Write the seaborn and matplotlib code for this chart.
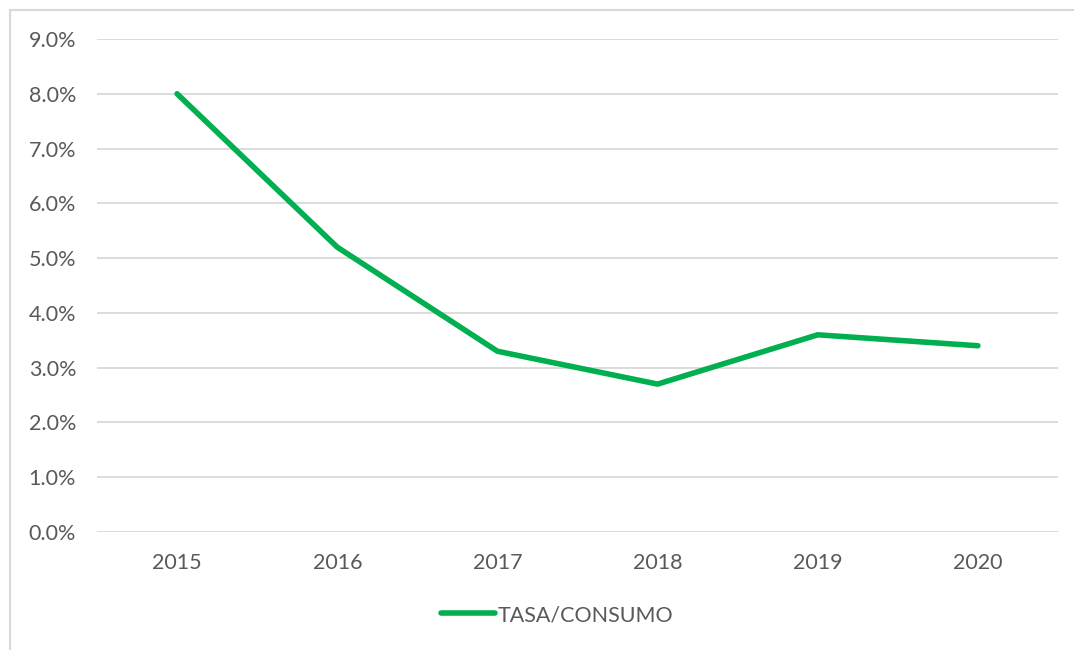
import numpy as np
import pandas as pd
import seaborn as sns
import matplotlib.pyplot as plt
from matplotlib.patches import Rectangle
from matplotlib.ticker import PercentFormatter

# chart data
years = ["2015", "2016", "2017", "2018", "2019", "2020"]
tasa_consumo = [0.080, 0.052, 0.033, 0.027, 0.036, 0.034]
series_name = "TASA/CONSUMO"

df = pd.DataFrame({"year": years, "value": tasa_consumo})

sns.set_theme(style="white")
plt.rcParams["font.family"] = ["Lato", "DejaVu Sans"]

text_color = "#595959"
green = "#00B050"
fs = 15.5

fig = plt.figure(figsize=(10.74, 6.5), dpi=100)
ax = fig.add_axes([97 / 1074, 1 - 532 / 650, (1058 - 97) / 1074, (532 - 39) / 650])

# outer chart frame
fig.patches.append(Rectangle((10 / 1074, -0.05), 1.2, 1 - 10 / 650 + 0.05,
                             transform=fig.transFigure, fill=False,
                             edgecolor="#D9D9D9", linewidth=1.5))

sns.lineplot(data=df, x="year", y="value", ax=ax, color=green, linewidth=4.0,
             label=series_name, sort=False)
ax.lines[0].set_solid_capstyle("round")
ax.lines[0].set_solid_joinstyle("round")

ax.set_xlim(-0.5, len(years) - 0.5)
ax.set_ylim(0, 0.09)
ax.set_yticks(np.arange(0, 0.0901, 0.01))
ax.yaxis.set_major_formatter(PercentFormatter(1.0, decimals=1))
ax.grid(axis="y", color="#D9D9D9", linewidth=1.3)
ax.set_axisbelow(True)
for s in ax.spines.values():
    s.set_visible(False)
ax.tick_params(axis="both", length=0, labelsize=fs, labelcolor=text_color)
ax.tick_params(axis="y", pad=15)
ax.tick_params(axis="x", pad=15)
ax.set_xlabel("")
ax.set_ylabel("")

leg = ax.legend(loc="center", bbox_to_anchor=(0.5 + 20 / 1074, (650 - 615) / 650),
                bbox_transform=fig.transFigure,
                frameon=False, fontsize=fs, handlelength=2.5, handletextpad=0.1)
for t in leg.get_texts():
    t.set_color(text_color)

fig.savefig("out.png", dpi=100, facecolor="white")
